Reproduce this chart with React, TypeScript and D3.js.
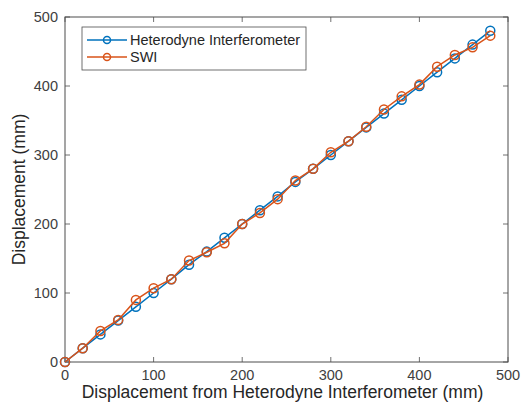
import React from "react";
import * as d3 from "d3";

const xValues = [0, 20, 40, 60, 80, 100, 120, 140, 160, 180, 200, 220, 240, 260, 280, 300, 320, 340, 360, 380, 400, 420, 440, 460, 480];
const heterodyne = [0, 20, 40, 60, 80, 100, 120, 141, 160, 180, 200, 220, 240, 261, 280, 300, 320, 340, 360, 380, 400, 420, 440, 460, 480];
const swi = [0, 20, 45, 61, 90, 107, 120, 147, 159, 172, 200, 216, 236, 263, 280, 304, 320, 341, 366, 385, 402, 428, 445, 456, 473];
const xTicks = [0, 100, 200, 300, 400, 500];
const yTicks = [0, 100, 200, 300, 400, 500];
const seriesNames = ["Heterodyne Interferometer", "SWI"];
const colors = ["#0072BD", "#D95319"];

export default function App() {
  const W = 523, H = 414;
  const L = 65, R = 508, T = 17, B = 362;
  const x = d3.scaleLinear().domain([0, 500]).range([L, R]);
  const y = d3.scaleLinear().domain([0, 500]).range([B, T]);
  const line = d3.line<number>().x((_, i) => x(xValues[i])).y((d) => y(d));
  const series = [heterodyne, swi];
  const font = "'Liberation Sans', Arial, Helvetica, sans-serif";
  const axisColor = "#4d4d4d";
  const tl = 5;
  return (
    <svg width={W} height={H} style={{ position: "absolute", left: 0, top: 0, background: "#fff" }} fontFamily={font}>
      <rect x={0} y={0} width={W} height={H} fill="#fff" />
      {xTicks.map((t) => (
        <g key={"xt" + t}>
          <line x1={x(t)} x2={x(t)} y1={B} y2={B - tl} stroke={axisColor} strokeWidth={0.8} />
          <line x1={x(t)} x2={x(t)} y1={T} y2={T + tl} stroke={axisColor} strokeWidth={0.8} />
          <text x={x(t)} y={375} textAnchor="middle" dominantBaseline="central" fontSize={14.5} fill="#404040">{t}</text>
        </g>
      ))}
      {yTicks.map((t) => (
        <g key={"yt" + t}>
          <line x1={L} x2={L + tl} y1={y(t)} y2={y(t)} stroke={axisColor} strokeWidth={0.8} />
          <line x1={R} x2={R - tl} y1={y(t)} y2={y(t)} stroke={axisColor} strokeWidth={0.8} />
          <text x={58} y={y(t)} textAnchor="end" dominantBaseline="central" fontSize={14.5} fill="#404040">{t}</text>
        </g>
      ))}
      <rect x={L} y={T} width={R - L} height={B - T} fill="none" stroke={axisColor} strokeWidth={1} />
      {series.map((s, si) => (
        <g key={"s" + si}>
          <path d={line(s) || ""} fill="none" stroke={colors[si]} strokeWidth={1.5} />
          {s.map((v, i) => (
            <circle key={i} cx={x(xValues[i])} cy={y(v)} r={4.5} fill="none" stroke={colors[si]} strokeWidth={1.5} />
          ))}
        </g>
      ))}
      <rect x={82} y={27} width={224} height={43} fill="#fff" stroke={axisColor} strokeWidth={0.8} />
      {seriesNames.map((n, i) => {
        const ly = 40 + i * 17;
        return (
          <g key={"lg" + i}>
            <line x1={87} x2={127} y1={ly} y2={ly} stroke={colors[i]} strokeWidth={1.5} />
            <circle cx={107} cy={ly} r={3.5} fill="none" stroke={colors[i]} strokeWidth={1.5} />
            <text x={130} y={ly} dominantBaseline="central" fontSize={14.5} fill="#262626">{n}</text>
          </g>
        );
      })}
      <text x={(L + R) / 2 - 4} y={392} textAnchor="middle" dominantBaseline="central" fontSize={17.5} fill="#262626">Displacement from Heterodyne Interferometer (mm)</text>
      <text transform={`translate(19, ${(T + B) / 2}) rotate(-90)`} textAnchor="middle" dominantBaseline="central" fontSize={17.5} fill="#262626">Displacement (mm)</text>
    </svg>
  );
}
